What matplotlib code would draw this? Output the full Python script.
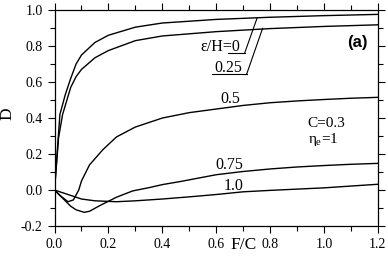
import matplotlib
matplotlib.use("Agg")
import matplotlib.pyplot as plt
from matplotlib.ticker import MultipleLocator, FormatStrFormatter

plt.rcParams['font.family'] = ['Liberation Serif', 'DejaVu Serif']
plt.rcParams['mathtext.fontset'] = 'custom'
plt.rcParams['mathtext.rm'] = 'Liberation Serif'
plt.rcParams['mathtext.it'] = 'Liberation Serif'
plt.rcParams['axes.unicode_minus'] = False

# ---- data ----
x_e0 = [0, 0.02, 0.04, 0.06, 0.08, 0.10, 0.15, 0.20, 0.30, 0.40, 0.60, 0.80, 1.00, 1.20]
d_e0 = [0, 0.42, 0.53, 0.62, 0.70, 0.75, 0.82, 0.86, 0.905, 0.928, 0.948, 0.96, 0.969, 0.976]

x_e025 = [0, 0.015, 0.03, 0.06, 0.08, 0.10, 0.15, 0.20, 0.30, 0.40, 0.60, 0.80, 1.00, 1.20]
d_e025 = [0, 0.29, 0.42, 0.57, 0.63, 0.67, 0.735, 0.775, 0.83, 0.856, 0.88, 0.897, 0.909, 0.918]

x_e05 = [0, 0.02, 0.05, 0.07, 0.09, 0.10, 0.13, 0.18, 0.23, 0.30, 0.40, 0.50, 0.60, 0.70, 0.80, 0.90, 1.00, 1.10, 1.20]
d_e05 = [0, -0.03, -0.065, -0.055, 0.0, 0.05, 0.14, 0.225, 0.295, 0.35, 0.40, 0.43, 0.45, 0.47, 0.485, 0.495, 0.503, 0.51, 0.515]

x_e075 = [0, 0.03, 0.06, 0.08, 0.11, 0.13, 0.17, 0.23, 0.29, 0.35, 0.40, 0.47, 0.54, 0.60, 0.70, 0.80, 0.90, 1.00, 1.10, 1.20]
d_e075 = [0, -0.045, -0.09, -0.11, -0.124, -0.118, -0.085, -0.04, -0.005, 0.013, 0.03, 0.048, 0.068, 0.085, 0.103, 0.117, 0.128, 0.136, 0.143, 0.148]

x_e10 = [0, 0.05, 0.10, 0.15, 0.23, 0.30, 0.40, 0.50, 0.60, 0.70, 0.80, 0.90, 1.00, 1.10, 1.20]
d_e10 = [0, -0.025, -0.05, -0.06, -0.065, -0.06, -0.05, -0.038, -0.025, -0.01, -0.002, 0.005, 0.012, 0.022, 0.032]

curves = [(x_e0, d_e0), (x_e025, d_e025), (x_e05, d_e05), (x_e075, d_e075), (x_e10, d_e10)]

fig = plt.figure(figsize=(3.88, 2.58), dpi=100)
ax = fig.add_axes([0.1405, 0.124, 0.8335, 0.837])

for xs, ys in curves:
    ax.plot(xs, ys, color='black', lw=1.0)

ax.set_xlim(0, 1.2)
ax.set_ylim(-0.2, 1.0)
ax.xaxis.set_major_locator(MultipleLocator(0.2))
ax.xaxis.set_minor_locator(MultipleLocator(0.1))
ax.yaxis.set_major_locator(MultipleLocator(0.2))
ax.yaxis.set_minor_locator(MultipleLocator(0.1))
ax.xaxis.set_major_formatter(FormatStrFormatter('%.1f'))
ax.yaxis.set_major_formatter(FormatStrFormatter('%.1f'))
ax.tick_params(which='both', direction='out', top=True, right=True, width=0.8,
               labelsize=10, pad=3.5)
ax.tick_params(which='major', length=5)
ax.tick_params(which='minor', length=3.5)
for sp in ax.spines.values():
    sp.set_linewidth(0.9)

ax.set_xlabel('F/C', fontsize=12.5)
ax.xaxis.label.set_va('center')
ax.xaxis.set_label_coords(0.586, -0.088)
ax.set_ylabel('D', fontsize=12.5)
ax.yaxis.label.set_va('center')
ax.yaxis.set_label_coords(-0.145, 0.521)

fs = 11.5
# labels with leader lines
ax.text(0.690, 0.772, 'ε/H=0', ha='right', va='baseline', fontsize=fs)
ax.plot([0.643, 0.706], [0.763, 0.763], color='black', lw=0.8)
ax.plot([0.706, 0.752], [0.763, 0.957], color='black', lw=0.8)
ax.text(0.697, 0.655, '0.25', ha='right', va='baseline', fontsize=fs)
ax.plot([0.583, 0.713], [0.644, 0.644], color='black', lw=0.8)
ax.plot([0.713, 0.772], [0.644, 0.898], color='black', lw=0.8)

ax.text(0.654, 0.485, '0.5', ha='center', va='baseline', fontsize=fs)
ax.text(0.649, 0.119, '0.75', ha='center', va='baseline', fontsize=fs)
ax.text(0.666, 0.002, '1.0', ha='center', va='baseline', fontsize=fs)

ax.text(0.94, 0.352, 'C=0.3', ha='left', va='baseline', fontsize=11)
ax.text(0.94, 0.262, r'$\eta_{\mathrm{e}}$=1', ha='left', va='baseline', fontsize=11)

ax.text(1.123, 0.819, '(a)', ha='center', va='center', fontsize=12,
        fontweight='bold', family='Liberation Sans')

fig.savefig('out.png', dpi=100)
